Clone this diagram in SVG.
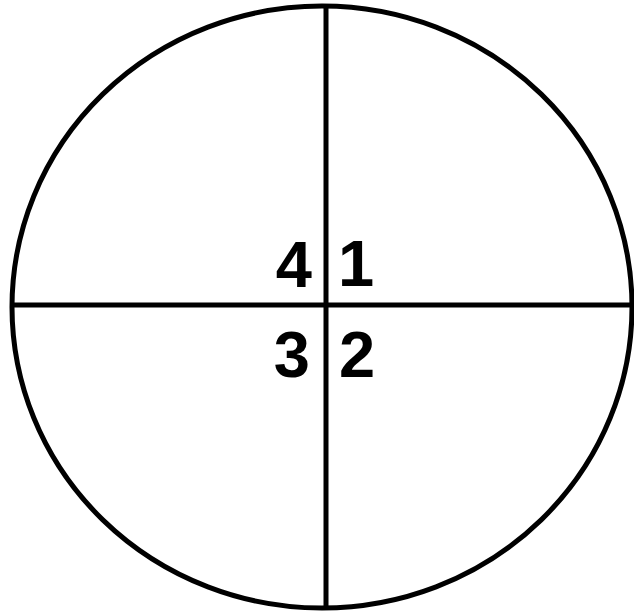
<svg xmlns="http://www.w3.org/2000/svg" width="634" height="615" viewBox="0 0 634 615">
<style>
.ln{stroke:#000;stroke-width:5;fill:none}
.num{font-family:"Liberation Sans",Arial,sans-serif;font-weight:bold;font-size:65px;fill:#000}
</style>
<rect width="634" height="615" fill="#fff"/>
<g id="circle"><ellipse class="ln" cx="322" cy="307" rx="310" ry="301"/></g>
<g id="connectors">
<line class="ln" x1="326" y1="6" x2="326" y2="608"/>
<line class="ln" x1="12" y1="305" x2="632" y2="305"/>
</g>
<g id="labels">
<text class="num" x="312" y="287" text-anchor="end">4</text>
<text class="num" x="338" y="286">1</text>
<text class="num" x="310" y="377" text-anchor="end">3</text>
<text class="num" x="339" y="377">2</text>
</g>
</svg>
